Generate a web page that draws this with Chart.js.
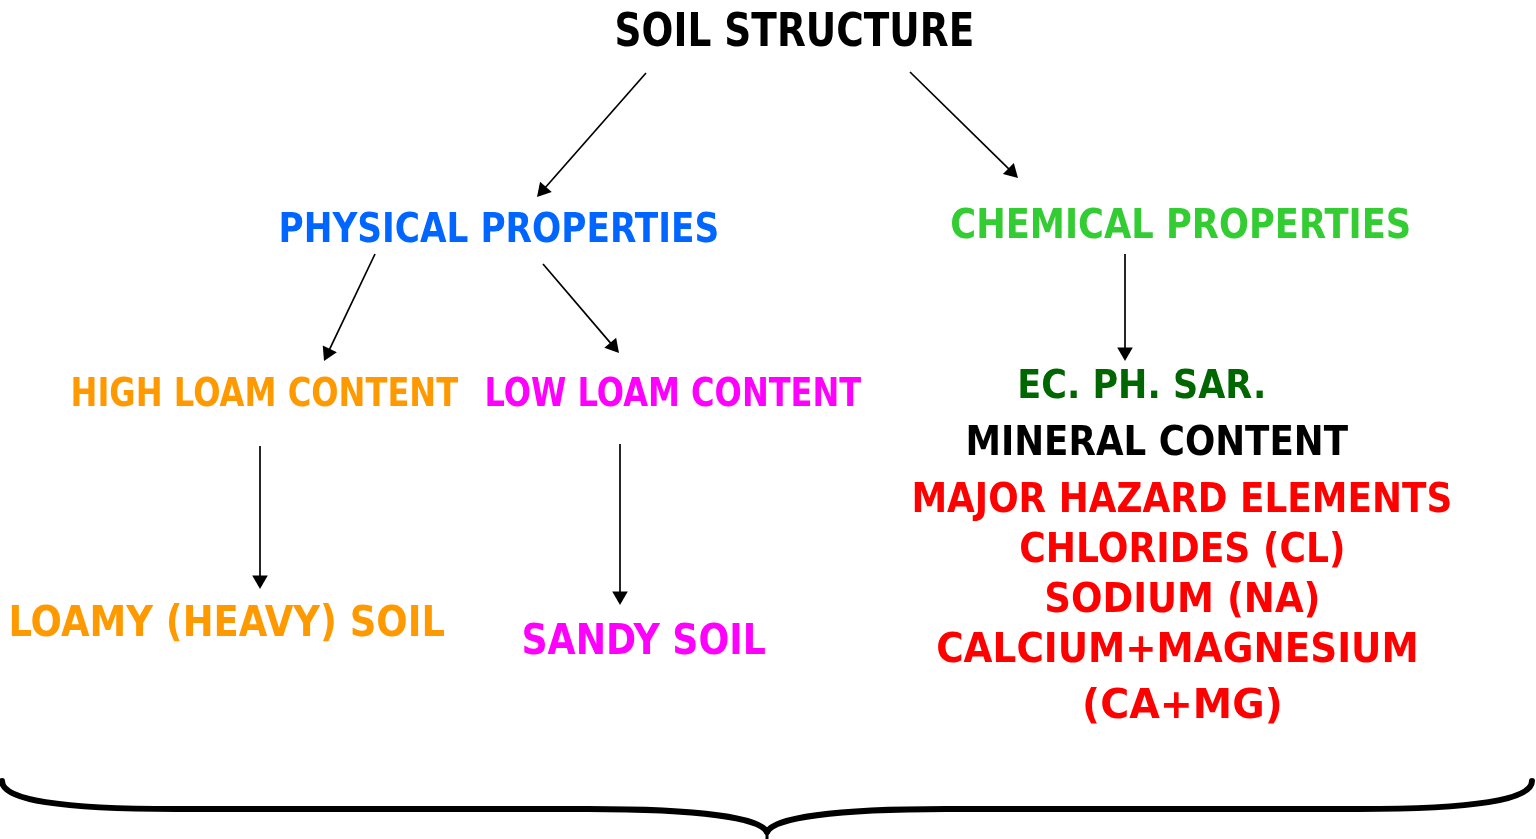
<!DOCTYPE html>
<html>
<head>
<meta charset="utf-8">
<script src="https://cdn.jsdelivr.net/npm/chart.js@4"></script>
<style>
  html, body { margin: 0; padding: 0; background: #fff; }
  #wrap { width: 1536px; height: 839px; }
</style>
</head>
<body>
<div id="wrap"><canvas id="chart"></canvas></div>
<script>
// texts of the diagram
const nodeTexts = [
  "SOIL STRUCTURE",
  "PHYSICAL PROPERTIES", "CHEMICAL PROPERTIES",
  "HIGH LOAM CONTENT", "LOW LOAM CONTENT",
  "LOAMY (HEAVY) SOIL", "SANDY SOIL",
  "EC. PH. SAR.", "MINERAL CONTENT", "MAJOR HAZARD ELEMENTS",
  "CHLORIDES (CL)", "SODIUM (NA)", "CALCIUM+MAGNESIUM", "(CA+MG)"
];

// placement of each text: left / right ink edge and baseline
const nodeLeft  = [617, 281, 952,  73, 487,  11, 524, 1020,  968,  914, 1021, 1046,  938, 1085];
const nodeRight = [972, 717, 1409, 458, 861, 444, 765, 1263, 1348, 1450, 1343, 1318, 1416, 1280];
const nodeBase  = [46,  242, 238,  406, 406, 636, 654,  398,  455,  512,  562,  612,  662,  718];
const nodeCap   = [34,  30,  30,   28,  28,  31,  31,   28,   30,   30,   30,   30,   30,   30];
const nodeColor = [
  "#000000", "#0066ff", "#33cc33", "#ff9900", "#ff00ff", "#ff9900", "#ff00ff",
  "#006600", "#000000", "#ff0000", "#ff0000", "#ff0000", "#ff0000", "#ff0000"
];

// arrows: start and tip
const arrowFromX = [646, 910, 375, 543, 1125, 260, 620];
const arrowFromY = [73,  72,  254, 264, 254,  446, 444];
const arrowToX   = [537, 1018, 324, 619, 1125, 260, 620];
const arrowToY   = [197, 178, 361, 353, 361,  589, 605];

// curly brace at the bottom (left half, mirrored for the right)
const braceX = [2, 2, 60, 176, 588, 700, 760];
const braceY = [781, 800, 809, 809, 809, 809, 818];
const braceMid = 767;
const braceTip = [832, 839];

const HEAD = 9;

const arrowSets = arrowFromX.map((x1, i) => {
  const y1 = arrowFromY[i], x2 = arrowToX[i], y2 = arrowToY[i];
  const dx = x2 - x1, dy = y2 - y1;
  const len = Math.hypot(dx, dy);
  const ex = x2 - dx / len * HEAD, ey = y2 - dy / len * HEAD;
  return {
    data: [{ x: x1, y: y1 }, { x: ex, y: ey }],
    showLine: true,
    borderColor: "#000",
    backgroundColor: "#000",
    borderWidth: 1.7,
    pointStyle: "triangle",
    pointRadius: [0, HEAD],
    pointBorderWidth: 0,
    pointRotation: Math.atan2(dx, -dy) * 180 / Math.PI,
    clip: false
  };
});

const braceAndText = {
  id: "braceAndText",
  afterDatasetsDraw(chart) {
    const ctx = chart.ctx;
    const sx = chart.scales.x, sy = chart.scales.y;
    const px = v => sx.getPixelForValue(v);
    const py = v => sy.getPixelForValue(v);

    // brace
    ctx.save();
    ctx.strokeStyle = "#000";
    ctx.lineWidth = 6;
    ctx.lineCap = "round";
    [1, -1].forEach(side => {
      const mx = i => side > 0 ? braceX[i] : 2 * braceMid - braceX[i];
      ctx.beginPath();
      ctx.moveTo(px(mx(0)), py(braceY[0]));
      ctx.bezierCurveTo(px(mx(1)), py(braceY[1]), px(mx(2)), py(braceY[2]), px(mx(3)), py(braceY[3]));
      ctx.lineTo(px(mx(4)), py(braceY[4]));
      ctx.bezierCurveTo(px(mx(5)), py(braceY[5]), px(mx(6)), py(braceY[6]), px(braceMid), py(braceTip[0]));
      ctx.stroke();
    });
    ctx.lineWidth = 3;
    ctx.beginPath();
    ctx.moveTo(px(braceMid), py(braceTip[0]));
    ctx.lineTo(px(braceMid), py(braceTip[1]));
    ctx.stroke();
    ctx.restore();

    // texts
    nodeTexts.forEach((t, i) => {
      const size = nodeCap[i] / 0.729;
      ctx.save();
      ctx.font = "bold " + size.toFixed(2) + "px 'DejaVu Sans'";
      ctx.textAlign = "left";
      ctx.textBaseline = "alphabetic";
      const m = ctx.measureText(t);
      const ink = m.actualBoundingBoxLeft + m.actualBoundingBoxRight;
      const left = px(nodeLeft[i]), right = px(nodeRight[i]);
      ctx.translate(left, py(nodeBase[i]));
      ctx.scale((right - left) / ink, 1);
      ctx.fillStyle = nodeColor[i];
      ctx.fillText(t, m.actualBoundingBoxLeft, 0);
      ctx.restore();
    });
  }
};

new Chart(document.getElementById("chart"), {
  type: "scatter",
  data: { datasets: arrowSets },
  options: {
    responsive: true,
    maintainAspectRatio: false,
    animation: false,
    layout: { padding: 0, autoPadding: false },
    plugins: { legend: { display: false }, tooltip: { enabled: false } },
    scales: {
      x: { type: "linear", min: 0, max: 1536, display: false },
      y: { type: "linear", min: 0, max: 839, reverse: true, display: false }
    }
  },
  plugins: [braceAndText]
});
</script>
</body>
</html>
